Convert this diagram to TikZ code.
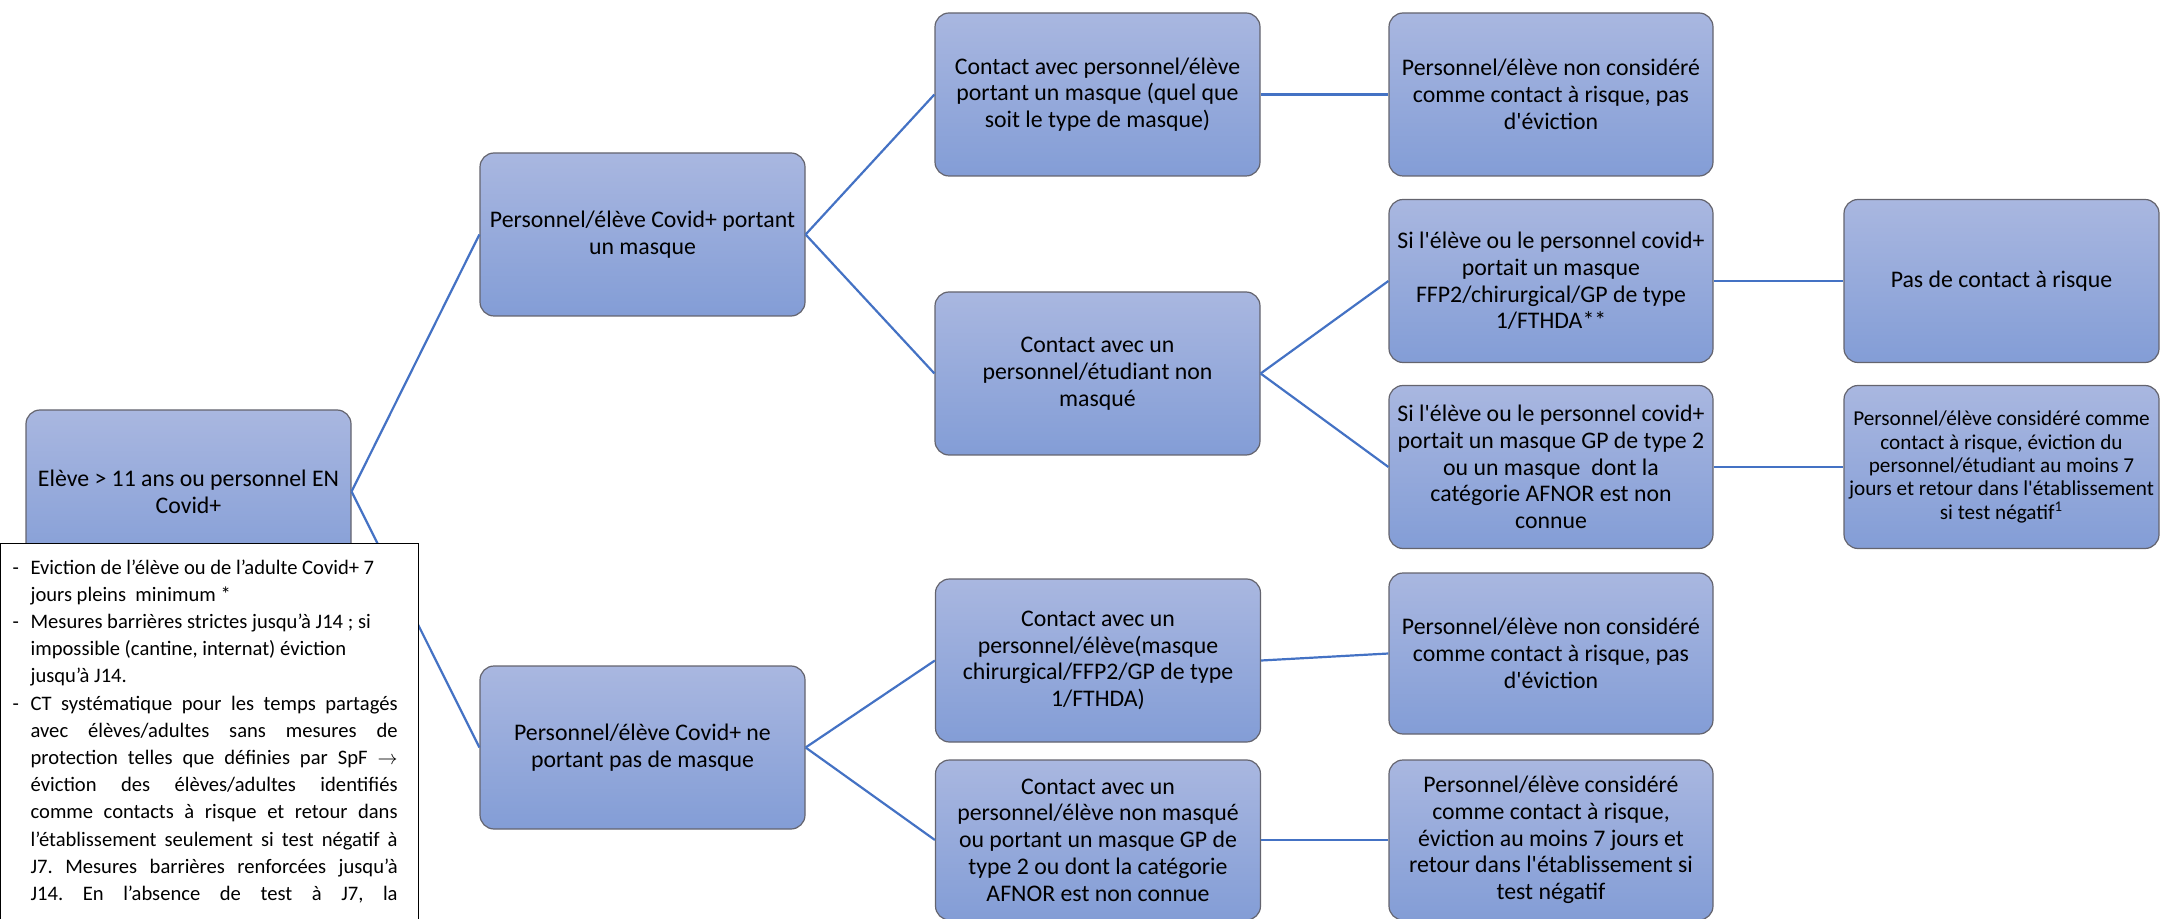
\documentclass[tikz,border=0pt]{standalone}
\usepackage{fontspec}
\setmainfont{Carlito}[Ligatures=TeXOff]
\definecolor{casetop}{RGB}{169,183,224}
\definecolor{casebot}{RGB}{131,157,214}
\definecolor{casedraw}{RGB}{100,100,110}
\definecolor{bleulien}{RGB}{68,114,196}
\newcommand{\tiret}{\noindent\hangindent=10pt\hangafter=1\makebox[10pt][l]{\hspace{1pt}-}}

\begin{document}
\begin{tikzpicture}[x=0.5pt,y=-0.5pt,
  case/.style={draw=casedraw,line width=0.6pt,rounded corners=7pt,top color=casetop,bottom color=casebot,
    minimum width=162.5pt,minimum height=81.5pt,inner sep=0pt,align=center,
    font=\fontsize{11.9}{13.35}\selectfont},
  lien/.style={draw=bleulien,line width=1.1pt}]

\useasboundingbox (0,0) rectangle (2163,919);
\clip (0,0) rectangle (2163,919);

% first column
\node[case] (eleve) at (188.5,491.5) {Elève > 11 ans ou personnel EN\\Covid+};

% second column
\node[case] (avecmasque) at (642.5,234.5) {Personnel/élève Covid+ portant\\un masque};
\node[case] (sansmasque) at (642.5,747.5) {Personnel/élève Covid+ ne\\portant pas de masque};

% third column
\node[case] (contactmasque) at (1097.5,94.5) {Contact avec personnel/élève\\portant un masque (quel que\\soit le type de masque)};
\node[case] (contactnonmasque) at (1097.5,373.5) {Contact avec un\\personnel/étudiant non\\masqué};
\node[case] (contactchir) at (1098,660.5) {Contact avec un\\personnel/élève(masque\\chirurgical/FFP2/GP de type\\1/FTHDA)};
\node[case,minimum height=80pt] (contactgp) at (1098,840) {Contact avec un\\personnel/élève non masqué\\ou portant un masque GP de\\type 2 ou dont la catégorie\\AFNOR est non connue};

% fourth column
\node[case,minimum width=162pt] (nonrisque) at (1551,94.5) {Personnel/élève non considéré\\comme contact à risque, pas\\d'éviction};
\node[case,minimum width=162pt] (sifpp) at (1551,281) {Si l'élève ou le personnel covid+\\portait un masque\\FFP2/chirurgical/GP de type\\1/FTHDA**};
\node[case,minimum width=162pt] (sigp) at (1551,467) {Si l'élève ou le personnel covid+\\portait un masque GP de type 2\\ou un masque~ dont la\\catégorie AFNOR est non\\connue};
\node[case,minimum width=162pt,minimum height=80.5pt] (nonrisquebis) at (1551,653.5) {Personnel/élève non considéré\\comme contact à risque, pas\\d'éviction};
\node[case,minimum width=162pt,minimum height=80pt] (evictionbis) at (1551,840) {Personnel/élève considéré\\comme contact à risque,\\éviction au moins 7 jours et\\retour dans l'établissement si\\test négatif};

% fifth column
\node[case,minimum width=157.5pt] (pasderisque) at (2001.5,281) {Pas de contact à risque};
\node[case,minimum width=157.5pt,font=\fontsize{10.6}{11.7}\selectfont] (eviction) at (2001.5,467) {Personnel/élève considéré comme\\contact à risque, éviction du\\personnel/étudiant au moins 7\\jours et retour dans l'établissement\\si test négatif\textsuperscript{1}};

% links
\draw[lien] (eleve.east) -- (avecmasque.west);
\draw[lien] (eleve.east) -- (sansmasque.west);
\draw[lien] (avecmasque.east) -- (contactmasque.west);
\draw[lien] (avecmasque.east) -- (contactnonmasque.west);
\draw[lien] (contactmasque.east) -- (nonrisque.west);
\draw[lien] (contactnonmasque.east) -- (sifpp.west);
\draw[lien] (contactnonmasque.east) -- (sigp.west);
\draw[lien] (sifpp.east) -- (pasderisque.west);
\draw[lien] (sigp.east) -- (eviction.west);
\draw[lien] (sansmasque.east) -- (contactchir.west);
\draw[lien] (sansmasque.east) -- (contactgp.west);
\draw[lien] (contactchir.east) -- (nonrisquebis.west);
\draw[lien] (contactgp.east) -- (evictionbis.west);

% text frame
\node[draw=black,line width=0.6pt,fill=white,anchor=north west,text width=199pt,inner xsep=5pt,inner ysep=8pt,
  align=justify,font=\fontsize{10.3}{13.6}\selectfont] (consignes) at (0,543) {%
  \hyphenpenalty=10000\frenchspacing
  {\rightskip=4.5pt plus 1fil
  \tiret Eviction de l’élève ou de l’adulte Covid+ 7\newline jours pleins~ minimum *\par
  \tiret Mesures barrières strictes jusqu’à J14 ; si\newline impossible (cantine, internat) éviction\newline jusqu’à J14.\par}
  {\rightskip=5.5pt\leftskip=0pt\spaceskip=0pt\xspaceskip=0pt\parfillskip=0pt
  \tiret CT systématique pour les temps partagés\linebreak avec élèves/adultes sans mesures de\linebreak protection telles que définies par SpF $\rightarrow$\linebreak éviction des élèves/adultes identifiés\linebreak comme contacts à risque et retour dans\linebreak l’établissement seulement si test négatif à\linebreak J7. Mesures barrières renforcées jusqu’à\linebreak J14. En l’absence de test à J7, la\par}
  \vspace*{40pt}};

\end{tikzpicture}
\end{document}
